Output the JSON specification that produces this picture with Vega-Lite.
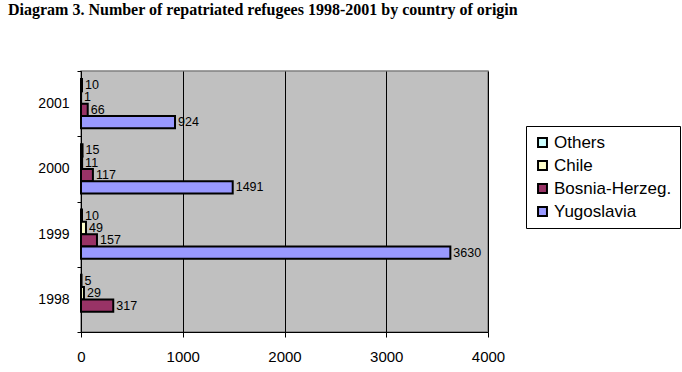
{
  "$schema": "https://vega.github.io/schema/vega-lite/v6.json",
  "width": 407,
  "height": 261,
  "autosize": {"type": "none"},
  "padding": {"left": 81, "top": 71, "right": 194, "bottom": 40},
  "background": "white",
  "title": {
    "text": "Diagram 3. Number of repatriated refugees 1998-2001 by country of origin",
    "anchor": "start",
    "frame": "group",
    "dx": -73,
    "offset": 33,
    "baseline": "alphabetic",
    "font": "Liberation Serif",
    "fontSize": 16,
    "fontWeight": "bold",
    "color": "black"
  },
  "config": {
    "view": {"stroke": "#808080", "strokeWidth": 1.5, "fill": "#C0C0C0"},
    "axis": {"labelFont": "Liberation Sans", "labelColor": "black", "domainColor": "black", "tickColor": "black", "title": null}
  },
  "data": {
    "values": [
      {"year": "2001", "country": "Others", "value": 10},
      {"year": "2001", "country": "Chile", "value": 1},
      {"year": "2001", "country": "Bosnia-Herzeg.", "value": 66},
      {"year": "2001", "country": "Yugoslavia", "value": 924},
      {"year": "2000", "country": "Others", "value": 15},
      {"year": "2000", "country": "Chile", "value": 11},
      {"year": "2000", "country": "Bosnia-Herzeg.", "value": 117},
      {"year": "2000", "country": "Yugoslavia", "value": 1491},
      {"year": "1999", "country": "Others", "value": 10},
      {"year": "1999", "country": "Chile", "value": 49},
      {"year": "1999", "country": "Bosnia-Herzeg.", "value": 157},
      {"year": "1999", "country": "Yugoslavia", "value": 3630},
      {"year": "1998", "country": "Others", "value": 5},
      {"year": "1998", "country": "Chile", "value": 29},
      {"year": "1998", "country": "Bosnia-Herzeg.", "value": 317}
    ]
  },
  "encoding": {
    "y": {
      "field": "year",
      "type": "nominal",
      "sort": "descending",
      "scale": {"paddingInner": 0, "paddingOuter": 0},
      "axis": {"tickBand": "extent", "tickSize": 4, "labelPadding": 8, "labelFontSize": 14, "grid": false, "domainWidth": 1}
    },
    "yOffset": {
      "field": "country",
      "type": "nominal",
      "sort": ["Others", "Chile", "Bosnia-Herzeg.", "Yugoslavia"],
      "scale": {"paddingInner": 0, "paddingOuter": 0.65}
    },
    "x": {
      "field": "value",
      "type": "quantitative",
      "scale": {"domain": [0, 4000], "nice": false},
      "axis": {"values": [0, 1000, 2000, 3000, 4000], "grid": true, "gridColor": "black", "gridOpacity": 1, "gridWidth": 1, "tickSize": 5, "labelPadding": 12, "labelFontSize": 15, "labelFlush": false, "format": "d"}
    }
  },
  "layer": [
    {
      "mark": {"type": "bar", "stroke": "black", "strokeWidth": 2},
      "encoding": {
        "color": {
          "field": "country",
          "type": "nominal",
          "sort": ["Others", "Chile", "Bosnia-Herzeg.", "Yugoslavia"],
          "scale": {"domain": ["Others", "Chile", "Bosnia-Herzeg.", "Yugoslavia"], "range": ["#CCFFFF", "#FFFFCC", "#993366", "#9999FF"]},
          "legend": {
            "orient": "none",
            "legendX": 445,
            "legendY": 55,
            "title": null,
            "strokeColor": "black",
            "fillColor": "white",
            "padding": 8,
            "symbolType": "square",
            "symbolSize": 80,
            "symbolStrokeColor": "black",
            "symbolStrokeWidth": 2,
            "symbolOpacity": 1,
            "labelFont": "Liberation Sans",
            "labelFontSize": 17,
            "labelColor": "black",
            "labelOffset": 3,
            "rowPadding": 5
          }
        }
      }
    },
    {
      "mark": {"type": "text", "align": "left", "baseline": "middle", "dx": 3, "font": "Liberation Sans", "fontSize": 12.5, "color": "black"},
      "encoding": {"text": {"field": "value", "type": "quantitative"}}
    }
  ]
}
